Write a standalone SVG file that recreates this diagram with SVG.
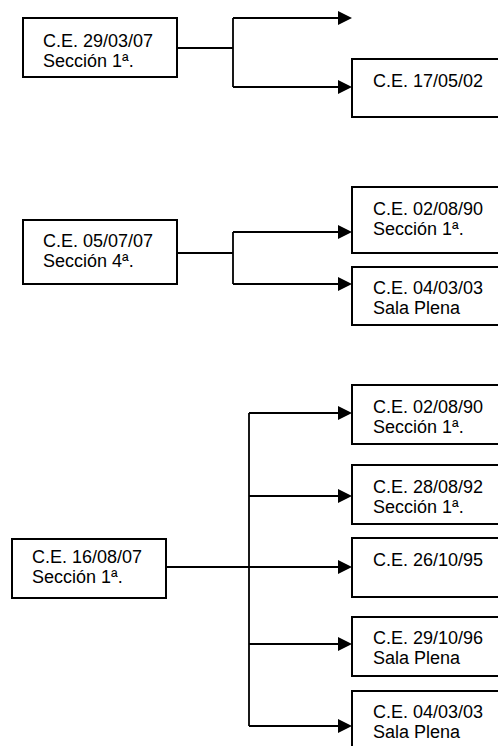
<svg xmlns="http://www.w3.org/2000/svg" width="498" height="746" viewBox="0 0 498 746">
<style>
.box{fill:#fff;stroke:#000;stroke-width:2}
.ln{fill:none;stroke:#000;stroke-width:1.8}
.arr{marker-end:url(#ah)}
text{font-family:"Liberation Sans",Arial,sans-serif;font-size:18px;fill:#000}
</style>
<defs>
<marker id="ah" markerUnits="userSpaceOnUse" markerWidth="14" markerHeight="14" refX="7" refY="7" orient="auto">
<path d="M0,0 L14,7 L0,14 z" fill="#000"/>
</marker>
</defs>
<rect width="498" height="746" fill="#fff"/>
<g id="connectors">
<!-- group 1 -->
<path class="ln" d="M177,48 H233 M233,18 V87"/>
<path class="ln arr" d="M233,18 H345"/>
<path class="ln arr" d="M233,87 H345"/>
<!-- group 2 -->
<path class="ln" d="M177,253 H233 M233,232 V284"/>
<path class="ln arr" d="M233,232 H345"/>
<path class="ln arr" d="M233,284 H345"/>
<!-- group 3 -->
<path class="ln" d="M249,413 V726"/>
<path class="ln arr" d="M249,413 H345"/>
<path class="ln arr" d="M249,496 H345"/>
<path class="ln arr" d="M166,567 H345"/>
<path class="ln arr" d="M249,644 H345"/>
<path class="ln arr" d="M249,726 H345"/>
</g>
<g id="n1"><rect class="box" x="23" y="18" width="154" height="59"/><text x="43" y="47">C.E. 29/03/07</text><text x="43" y="67">Sección 1ª.</text></g>
<g id="n2"><rect class="box" x="352" y="59" width="200" height="58"/><text x="373" y="87">C.E. 17/05/02</text></g>
<g id="n3"><rect class="box" x="23" y="220" width="154" height="64"/><text x="43" y="247">C.E. 05/07/07</text><text x="43" y="267">Sección 4ª.</text></g>
<g id="n4"><rect class="box" x="352" y="187" width="200" height="66"/><text x="373" y="215">C.E. 02/08/90</text><text x="373" y="235">Sección 1ª.</text></g>
<g id="n5"><rect class="box" x="352" y="267" width="200" height="58"/><text x="373" y="294">C.E. 04/03/03</text><text x="373" y="314">Sala Plena</text></g>
<g id="n6"><rect class="box" x="12" y="539" width="154" height="59"/><text x="32" y="563">C.E. 16/08/07</text><text x="32" y="583">Sección 1ª.</text></g>
<g id="n7"><rect class="box" x="352" y="385" width="200" height="59"/><text x="373" y="413">C.E. 02/08/90</text><text x="373" y="433">Sección 1ª.</text></g>
<g id="n8"><rect class="box" x="352" y="465" width="200" height="59"/><text x="373" y="493">C.E. 28/08/92</text><text x="373" y="513">Sección 1ª.</text></g>
<g id="n9"><rect class="box" x="352" y="538" width="200" height="59"/><text x="373" y="566">C.E. 26/10/95</text></g>
<g id="n10"><rect class="box" x="352" y="617" width="200" height="59"/><text x="373" y="644">C.E. 29/10/96</text><text x="373" y="664">Sala Plena</text></g>
<g id="n11"><rect class="box" x="352" y="691" width="200" height="70"/><text x="373" y="718">C.E. 04/03/03</text><text x="373" y="738">Sala Plena</text></g>
</svg>
